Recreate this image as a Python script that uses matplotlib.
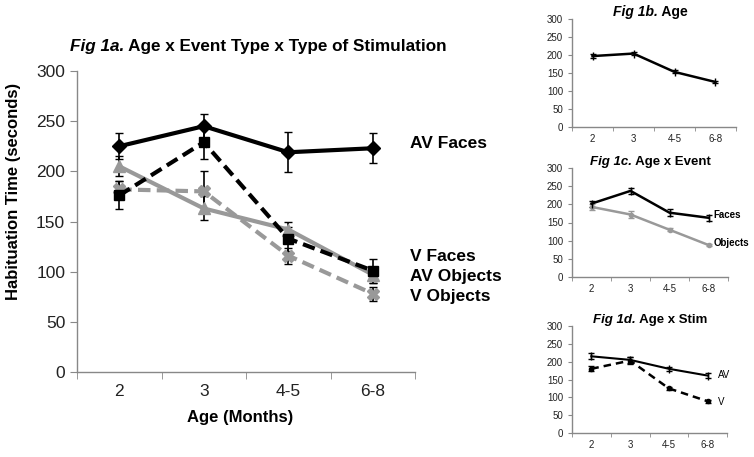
import numpy as np
import matplotlib.pyplot as plt

plt.rcParams['font.family'] = ['Liberation Sans', 'DejaVu Sans']

ages = ['2', '3', '4-5', '6-8']

# Fig 1a data
av_faces = [225, 245, 219, 223]
av_faces_err = [13, 12, 20, 15]
v_faces = [176, 229, 133, 101]
v_faces_err = [14, 17, 12, 12]
av_objects = [205, 163, 142, 97]
av_objects_err = [10, 12, 8, 8]
v_objects = [182, 180, 116, 78]
v_objects_err = [8, 20, 8, 7]

# Fig 1b data
age_mean = [197, 204, 153, 125]
age_err = [5, 5, 4, 4]

# Fig 1c data
faces = [202, 237, 177, 163]
faces_err = [8, 9, 9, 8]
objects = [193, 172, 130, 88]
objects_err = [8, 9, 4, 3]

# Fig 1d data
av = [215, 205, 180, 161]
av_err = [8, 8, 6, 6]
v = [180, 203, 125, 89]
v_err = [7, 10, 5, 4]

GRAY = '#999999'
SPINE = '#888888'
W, H = 754, 457
x = np.arange(len(ages))

fig = plt.figure(figsize=(W / 100, H / 100), dpi=100)


def px_axes(left, right, top, bottom):
    # axes placed by pixel edges of the reference
    return fig.add_axes([left / W, 1 - bottom / H, (right - left) / W, (bottom - top) / H])


def style_axes(ax, fs, ticklen, pad):
    ax.set_xlim(-0.5, 3.5)
    ax.set_ylim(0, 300)
    ax.set_yticks(range(0, 301, 50))
    ax.set_xticks(x)
    ax.set_xticklabels(ages)
    ax.set_xticks(np.arange(-0.5, 3.6, 1), minor=True)
    for s in ['top', 'right']:
        ax.spines[s].set_visible(False)
    for s in ['left', 'bottom']:
        ax.spines[s].set_color(SPINE)
        ax.spines[s].set_linewidth(1.0)
    ax.tick_params(axis='x', which='major', length=0, labelsize=fs, pad=pad)
    ax.tick_params(axis='x', which='minor', length=ticklen, color=SPINE, direction='out')
    ax.tick_params(axis='y', length=ticklen, color=SPINE, direction='out', labelsize=fs)
    ax.tick_params(labelcolor='#222222')


def title(ax, first, rest, xpx, ypx, fs):
    t1 = fig.text(xpx / W, 1 - ypx / H, first, fontsize=fs, fontweight='bold', style='italic')
    ax.annotate(rest, xy=(1, 0), xycoords=t1, va='bottom', ha='left',
                fontsize=fs, fontweight='bold', annotation_clip=False)


# ---- Fig 1a ----
ax = px_axes(77, 415, 71, 372)
style_axes(ax, 12.5, 5, 9)
ax.errorbar(x, v_objects, yerr=v_objects_err, color=GRAY, lw=3, ls=(0, (3, 1.5)),
            marker='X', ms=8, ecolor='black', elinewidth=1.2, capsize=3)
ax.errorbar(x, av_objects, yerr=av_objects_err, color=GRAY, lw=3, ls='-',
            marker='^', ms=8, ecolor='black', elinewidth=1.2, capsize=3)
ax.errorbar(x, v_faces, yerr=v_faces_err, color='black', lw=3, ls=(0, (3, 1.5)),
            marker='s', ms=7, ecolor='black', elinewidth=1.2, capsize=3)
ax.errorbar(x, av_faces, yerr=av_faces_err, color='black', lw=3, ls='-',
            marker='D', ms=7, ecolor='black', elinewidth=1.2, capsize=3)
ax.set_ylabel('Habituation Time (seconds)', fontsize=12, fontweight='bold')
ax.yaxis.set_label_coords(-0.166, 0.60)
ax.set_xlabel('Age (Months)', fontsize=12, fontweight='bold')
ax.xaxis.set_label_coords(0.482, -0.125)
lab_kw = dict(fontsize=12.5, fontweight='bold', va='center', ha='left', clip_on=False)
ax.text(3.44, 228, 'AV Faces', **lab_kw)
ax.text(3.44, 115, 'V Faces', **lab_kw)
ax.text(3.44, 95, 'AV Objects', **lab_kw)
ax.text(3.44, 75, 'V Objects', **lab_kw)
title(ax, 'Fig 1a.', ' Age x Event Type x Type of Stimulation', 70, 51, 12.3)

# ---- Fig 1b ----
ax = px_axes(572, 736, 19, 127)
style_axes(ax, 7, 3, 5)
ax.errorbar(x, age_mean, yerr=age_err, color='black', lw=1.8, marker='|', ms=6,
            ecolor='black', elinewidth=1, capsize=2)
title(ax, 'Fig 1b.', ' Age', 613, 16, 10)

# ---- Fig 1c ----
ax = px_axes(572, 728, 168, 277)
style_axes(ax, 7, 3, 5)
ax.errorbar(x, objects, yerr=objects_err, color=GRAY, lw=1.8, marker='o', ms=3,
            ecolor=GRAY, elinewidth=1, capsize=2)
ax.errorbar(x, faces, yerr=faces_err, color='black', lw=1.8, marker='|', ms=6,
            ecolor='black', elinewidth=1, capsize=2)
ax.text(3.12, 171, 'Faces', fontsize=7, fontweight='bold', va='center', clip_on=False)
ax.text(3.12, 94, 'Objects', fontsize=7, fontweight='bold', va='center', clip_on=False)
title(ax, 'Fig 1c.', ' Age x Event', 590, 165, 9.5)

# ---- Fig 1d ----
ax = px_axes(572, 727, 326, 433)
style_axes(ax, 7, 3, 5)
ax.errorbar(x, v, yerr=v_err, color='black', lw=1.8, ls=(0, (3, 2)), marker='o', ms=3,
            ecolor='black', elinewidth=1, capsize=2)
ax.errorbar(x, av, yerr=av_err, color='black', lw=1.5, marker='|', ms=6,
            ecolor='black', elinewidth=1, capsize=2)
ax.text(3.27, 163, 'AV', fontsize=7, va='center', clip_on=False)
ax.text(3.27, 87, 'V', fontsize=7, va='center', clip_on=False)
title(ax, 'Fig 1d.', ' Age x Stim', 593, 323, 9.5)

fig.savefig('out.png', dpi=100)
